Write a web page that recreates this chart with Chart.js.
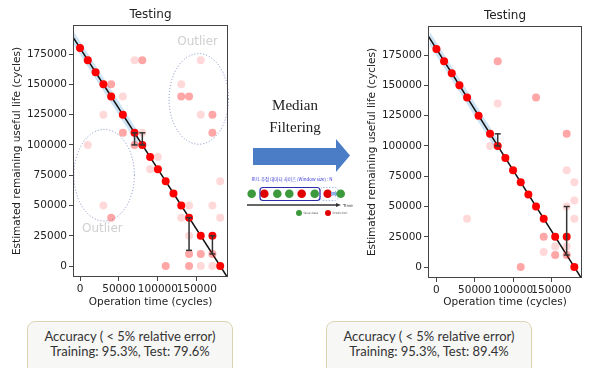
<!DOCTYPE html>
<html lang="en">
<head>
    <meta charset="UTF-8">
    <title>Testing - Median Filtering</title>
    <style>
        body {
            margin: 0;
            background: #fff;
            font-family: 'DejaVu Sans', sans-serif;
        }
        #page {
            position: relative;
            width: 592px;
            height: 368px;
            overflow: hidden;
        }
        canvas {
            position: absolute;
            top: 0;
        }
        #leftChart { left: 0; }
        #rightChart { left: 340px; }
        #middle {
            position: absolute;
            left: 0;
            top: 0;
        }
        .box {
            position: absolute;
            top: 321px;
            width: 206px;
            height: 70px;
            box-sizing: border-box;
            border: 1.5px solid #dcd3b2;
            border-radius: 8px;
            background: #f7f7f5;
            font-family: Lato, sans-serif;
            font-size: 13px;
            line-height: 15px;
            color: #333;
            text-align: center;
            padding-top: 7px;
        }
    </style>
    <script src="https://cdn.jsdelivr.net/npm/chart.js"></script>
</head>
<body>
<div id="page">
    <canvas id="leftChart" width="240" height="310"></canvas>
    <canvas id="rightChart" width="252" height="310"></canvas>

    <svg id="middle" width="592" height="368">
        <text x="295" y="110" text-anchor="middle" font-family="Liberation Serif" font-size="15" fill="#222">Median</text>
        <text x="295" y="132" text-anchor="middle" font-family="Liberation Serif" font-size="15" fill="#222">Filtering</text>
        <polygon points="253,148 336,148 336,139 350,155.5 336,172 336,165 253,165" fill="#4a7dc5"/>
        <text x="292" y="181" text-anchor="middle" font-family="Noto Sans CJK KR" font-size="4.5" fill="#3b3bd6">RUL 추정 데이터 사이즈 (Window size) : N</text>
        <rect x="320" y="187.5" width="18" height="13" rx="3" fill="none" stroke="#9db0dd" stroke-width="0.8" stroke-dasharray="1.5,1.5"/>
        <circle cx="251.7" cy="193.8" r="4.3" fill="#3c9a3c"/>
        <circle cx="264.3" cy="193.8" r="4.3" fill="#e00000"/>
        <circle cx="277.3" cy="193.8" r="4.3" fill="#3c9a3c"/>
        <circle cx="289.3" cy="193.8" r="4.3" fill="#3c9a3c"/>
        <circle cx="301.7" cy="193.8" r="4.3" fill="#e00000"/>
        <circle cx="314.7" cy="193.8" r="4.3" fill="#3c9a3c"/>
        <circle cx="327.7" cy="193.8" r="4.3" fill="#e00000"/>
        <polygon points="331,192 335,192 335,190.5 338,193.8 335,197 335,195.5 331,195.5" fill="#8fb0e0"/>
        <circle cx="340.7" cy="193.8" r="4.3" fill="#3c9a3c"/>
        <rect x="260" y="187.5" width="60" height="13" rx="3" fill="none" stroke="#2c2ca8" stroke-width="1.2"/>
        <line x1="247" y1="205" x2="337" y2="205" stroke="#333" stroke-width="1.5"/>
        <polygon points="336,203 341,205 336,207" fill="#333"/>
        <text x="343" y="206.5" font-family="DejaVu Sans" font-size="4" fill="#333">Time</text>
        <circle cx="299" cy="213" r="3" fill="#3c9a3c"/>
        <text x="303.5" y="214.3" font-family="DejaVu Sans" font-size="3" fill="#666">false data</text>
        <circle cx="328" cy="213" r="3" fill="#e00000"/>
        <text x="332.5" y="214.3" font-family="DejaVu Sans" font-size="3" fill="#666">Prediction</text>
    </svg>

    <div class="box" style="left: 27px;">Accuracy ( &lt; 5% relative error)<br>Training: 95.3%, Test: 79.6%</div>
    <div class="box" style="left: 326px;">Accuracy ( &lt; 5% relative error)<br>Training: 95.3%, Test: 89.4%</div>
</div>

<script>
    // predictions (same in both panels)
    const predX = [0, 10000, 20000, 30000, 40000, 55000, 70000, 80000, 90000, 100000, 110000, 120000, 130000, 140000, 155000, 170000, 180000];
    const predY = [180000, 170000, 160000, 150000, 140000, 125000, 110000, 100000, 90000, 80000, 70000, 60000, 50000, 40000, 25000, 25000, 0];

    // raw predictions (left) - faded points
    const leftMedX = [80000, 40000, 55000, 70000, 40000, 130000, 140000, 170000, 170000, 140000, 155000, 170000, 110000, 140000];
    const leftMedY = [170000, 150000, 110000, 100000, 40000, 140000, 140000, 125000, 110000, 10000, 10000, 10000, 0, 0];
    const leftLightX = [70000, 55000, 30000, 80000, 10000, 100000, 90000, 30000, 130000, 140000, 130000, 155000, 155000, 180000, 170000, 180000, 140000, 155000, 170000];
    const leftLightY = [170000, 140000, 125000, 110000, 100000, 90000, 80000, 50000, 40000, 50000, 150000, 170000, 125000, 70000, 50000, 40000, 25000, 0, 0];

    // median filtered (right) - faded points
    const rightMedX = [80000, 130000, 170000, 140000, 110000, 155000, 170000];
    const rightMedY = [170000, 140000, 110000, 25000, 0, 10000, 10000];
    const rightLightX = [80000, 70000, 170000, 180000, 180000, 40000, 180000, 140000, 155000, 170000, 170000];
    const rightLightY = [135000, 100000, 80000, 70000, 55000, 40000, 40000, 12500, 17000, 17000, 50000];

    // error bars
    const leftErrX = [70000, 80000, 140000, 170000];
    const leftErrLo = [100000, 100000, 13000, 10000];
    const leftErrHi = [110000, 110000, 40000, 25000];
    const rightErrX = [80000, 170000];
    const rightErrLo = [100000, 10000];
    const rightErrHi = [110000, 50000];

    // true RUL line and its band
    const trueX = [-11000, 190000];
    const trueY = [191000, -10000];
    const leftBandX = [-9000, 75000];
    const rightBandX = [-9000, 80000];
    const bandHalf = 5500;

    // outlier ellipses (left only)
    const ellipseCx = [31000, 152500];
    const ellipseCy = [75000, 138000];
    const ellipseRx = [38800, 38200];
    const ellipseRy = [37800, 37400];
    const outlierLabelX = [28700, 151000];
    const outlierLabelY = [30800, 185000];

    const yTicks = [0, 25000, 50000, 75000, 100000, 125000, 150000, 175000];
    const xTicks = [0, 50000, 100000, 150000];

    const pts = (xs, ys) => xs.map((x, i) => ({x: x, y: ys[i]}));

    const frame = {
        id: 'frame',
        afterDraw(chart) {
            const {ctx, chartArea: a} = chart;
            ctx.save();
            ctx.strokeStyle = '#444';
            ctx.lineWidth = 1;
            ctx.strokeRect(a.left + 0.5, a.top + 0.5, a.right - a.left - 1, a.bottom - a.top - 1);
            ctx.restore();
        }
    };

    const outliers = {
        id: 'outliers',
        afterDatasetsDraw(chart, args, opts) {
            if (!opts.show) return;
            const {ctx, scales: {x, y}} = chart;
            ctx.save();
            ctx.strokeStyle = '#7d8cc4';
            ctx.lineWidth = 1;
            ctx.setLineDash([1, 2]);
            for (let i = 0; i < ellipseCx.length; i++) {
                const cx = x.getPixelForValue(ellipseCx[i]);
                const cy = y.getPixelForValue(ellipseCy[i]);
                const rx = Math.abs(x.getPixelForValue(ellipseCx[i] + ellipseRx[i]) - cx);
                const ry = Math.abs(y.getPixelForValue(ellipseCy[i] + ellipseRy[i]) - cy);
                ctx.beginPath();
                ctx.ellipse(cx, cy, rx, ry, 0, 0, Math.PI * 2);
                ctx.stroke();
            }
            ctx.setLineDash([]);
            ctx.fillStyle = '#cfcfcf';
            ctx.font = '12px "DejaVu Sans"';
            ctx.textAlign = 'center';
            ctx.textBaseline = 'middle';
            for (let i = 0; i < outlierLabelX.length; i++) {
                ctx.fillText('Outlier', x.getPixelForValue(outlierLabelX[i]), y.getPixelForValue(outlierLabelY[i]));
            }
            ctx.restore();
        }
    };

    function makeChart(id, cfg) {
        const datasets = [];
        // error bars on top
        cfg.errX.forEach((ex, i) => {
            datasets.push({
                data: [{x: ex, y: cfg.errLo[i]}, {x: ex, y: cfg.errHi[i]}],
                showLine: true,
                borderColor: '#333',
                borderWidth: 1.5,
                pointStyle: 'line',
                pointRadius: 3,
                pointBorderColor: '#333',
                pointBorderWidth: 1.5,
                order: 1
            });
        });
        datasets.push({
            data: pts(predX, predY),
            backgroundColor: '#ff0000',
            borderWidth: 0,
            pointRadius: 4,
            order: 2
        });
        datasets.push({
            data: pts(cfg.medX, cfg.medY),
            backgroundColor: 'rgba(255,0,0,0.35)',
            borderWidth: 0,
            pointRadius: 4,
            order: 3
        });
        datasets.push({
            data: pts(cfg.lightX, cfg.lightY),
            backgroundColor: 'rgba(255,0,0,0.15)',
            borderWidth: 0,
            pointRadius: 4,
            order: 3
        });
        datasets.push({
            data: pts(trueX, trueY),
            showLine: true,
            borderColor: '#111',
            borderWidth: 1.5,
            pointRadius: 0,
            order: 4
        });
        const upper = cfg.bandX.map(v => ({x: v, y: 180000 - v + bandHalf}));
        const lower = cfg.bandX.map(v => ({x: v, y: 180000 - v - bandHalf}));
        datasets.push({
            data: upper,
            showLine: true,
            borderWidth: 0,
            pointRadius: 0,
            order: 5
        });
        datasets.push({
            data: lower,
            showLine: true,
            borderWidth: 0,
            pointRadius: 0,
            fill: '-1',
            backgroundColor: 'rgba(165,205,235,0.55)',
            order: 5
        });

        const tickFont = {family: 'DejaVu Sans', size: 10.5};
        const plain = v => String(v);
        return new Chart(document.getElementById(id), {
            type: 'scatter',
            data: {datasets: datasets},
            options: {
                responsive: false,
                animation: false,
                events: [],
                layout: {padding: {left: 0, right: cfg.padRight, top: 0, bottom: 0}},
                plugins: {
                    legend: {display: false},
                    tooltip: {enabled: false},
                    title: {
                        display: true,
                        text: 'Testing',
                        fullSize: false,
                        color: '#222',
                        font: {family: 'DejaVu Sans', size: 12, weight: 'normal'},
                        padding: {top: cfg.titleTop, bottom: cfg.plotTop - cfg.titleTop - 14.4}
                    },
                    outliers: {show: cfg.outliers}
                },
                scales: {
                    x: {
                        type: 'linear',
                        min: cfg.xMin,
                        max: cfg.xMax,
                        afterFit: s => { s.height = cfg.xAxisH; },
                        afterBuildTicks: s => { s.ticks = xTicks.map(v => ({value: v})); },
                        grid: {display: true, drawOnChartArea: false, drawTicks: true, tickLength: 4, color: '#444'},
                        border: {display: false},
                        ticks: {font: tickFont, color: '#222', padding: 2, maxRotation: 0, autoSkip: false, callback: plain},
                        title: {display: true, text: 'Operation time (cycles)', font: tickFont, color: '#222', padding: {top: 0, bottom: 1}}
                    },
                    y: {
                        type: 'linear',
                        min: -9000,
                        max: 199000,
                        afterFit: s => { s.width = cfg.yAxisW; },
                        afterBuildTicks: s => { s.ticks = yTicks.map(v => ({value: v})); },
                        grid: {display: true, drawOnChartArea: false, drawTicks: true, tickLength: 4, color: '#444'},
                        border: {display: false},
                        ticks: {font: tickFont, color: '#222', padding: 2, autoSkip: false, callback: plain},
                        title: {display: true, text: 'Estimated remaining useful life (cycles)', font: tickFont, color: '#222', padding: {top: cfg.yTitlePad, bottom: 0}}
                    }
                }
            },
            plugins: [frame, outliers]
        });
    }

    makeChart('leftChart', {
        medX: leftMedX, medY: leftMedY, lightX: leftLightX, lightY: leftLightY,
        errX: leftErrX, errLo: leftErrLo, errHi: leftErrHi,
        bandX: leftBandX, outliers: true,
        xMin: -9000, xMax: 190000,
        yAxisW: 73, xAxisH: 33, padRight: 12,
        plotTop: 25, titleTop: 8, yTitlePad: 11
    });

    makeChart('rightChart', {
        medX: rightMedX, medY: rightMedY, lightX: rightLightX, lightY: rightLightY,
        errX: rightErrX, errLo: rightErrLo, errHi: rightErrHi,
        bandX: rightBandX, outliers: false,
        xMin: -11000, xMax: 190000,
        yAxisW: 88, xAxisH: 32, padRight: 10,
        plotTop: 26, titleTop: 9, yTitlePad: 26
    });
</script>
</body>
</html>
